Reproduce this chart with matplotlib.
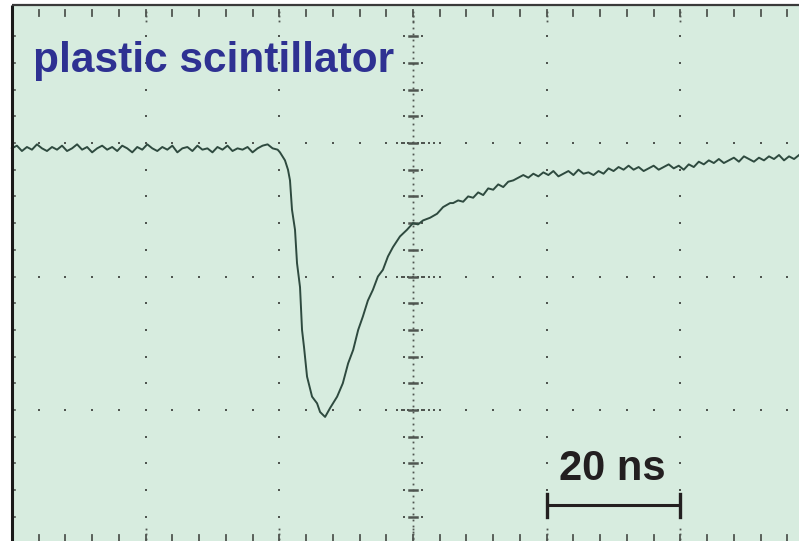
import numpy as np
import matplotlib.pyplot as plt
from matplotlib.patches import Rectangle

# scope trace: time in ns (20 ns / div), amplitude in divisions
base_t = [-60.0, -59.25, -58.5, -57.75, -57.0, -56.25, -55.5, -54.75, -54.0, -53.25,
          -52.5, -51.75, -51.0, -50.25, -49.5, -48.75, -48.0, -47.25, -46.5, -45.75,
          -45.0, -44.25, -43.5, -42.75, -42.0, -41.25, -40.5, -39.75, -39.0, -38.25,
          -37.5, -36.75, -36.0, -35.25, -34.5, -33.75, -33.0, -32.25, -31.5, -30.75,
          -30.0, -29.25, -28.5, -27.75, -27.0, -26.25, -25.5, -24.75, -24.0, -23.25,
          -22.5, -21.75, -21.0, -20.25]
base_v = [2.96, 2.98, 2.94, 2.97, 2.95, 2.99, 2.96, 2.94, 2.97, 2.95,
          2.98, 2.94, 2.96, 2.99, 2.95, 2.97, 2.93, 2.96, 2.98, 2.95,
          2.97, 2.94, 2.98, 2.96, 2.93, 2.97, 2.95, 2.99, 2.96, 2.94,
          2.97, 2.95, 2.98, 2.93, 2.96, 2.97, 2.94, 2.98, 2.95, 2.96,
          2.93, 2.97, 2.95, 2.98, 2.94, 2.96, 2.95, 2.97, 2.93, 2.96,
          2.98, 2.99, 2.96, 2.95]

pulse_t = [-19.9, -19.15, -18.7, -18.4, -18.1, -17.65, -17.35, -16.9, -16.6, -16.3,
           -15.85, -15.1, -14.35, -13.9, -13.15, -12.4, -11.35, -10.5, -9.7, -8.95,
           -8.2, -7.5, -6.75, -6.0, -5.25, -4.5, -3.75, -3.0, -1.95, -0.9,
           0.0, 0.75, 1.5, 2.55, 3.6, 4.5, 5.55]
pulse_v = [2.93, 2.87, 2.80, 2.72, 2.50, 2.35, 2.10, 1.92, 1.60, 1.47,
           1.25, 1.10, 1.05, 0.985, 0.948, 1.015, 1.10, 1.20, 1.35, 1.45,
           1.60, 1.70, 1.82, 1.90, 2.00, 2.05, 2.15, 2.22, 2.30, 2.35,
           2.40, 2.39, 2.42, 2.44, 2.47, 2.52, 2.55]

tail_t = [6.0, 6.75, 7.5, 8.25, 9.0, 9.75, 10.5, 11.25, 12.0, 12.75,
          13.5, 14.25, 15.0, 15.75, 16.5, 17.25, 18.0, 18.75, 19.5, 20.25,
          21.0, 21.75, 22.5, 23.25, 24.0, 24.75, 25.5, 26.25, 27.0, 27.75,
          28.5, 29.25, 30.0, 30.75, 31.5, 32.25, 33.0, 33.75, 34.5, 35.25,
          36.0, 36.75, 37.5, 38.25, 39.0, 39.75, 40.5, 41.25, 42.0, 42.75,
          43.5, 44.25, 45.0, 45.75, 46.5, 47.25, 48.0, 48.75, 49.5, 50.25,
          51.0, 51.75, 52.5, 53.25, 54.0, 54.75, 55.5, 56.25, 57.0, 57.75]
tail_v = [2.55, 2.57, 2.56, 2.60, 2.59, 2.63, 2.61, 2.66, 2.65, 2.69,
          2.67, 2.71, 2.72, 2.74, 2.76, 2.74, 2.77, 2.75, 2.78, 2.76,
          2.79, 2.75, 2.77, 2.79, 2.76, 2.80, 2.77, 2.78, 2.76, 2.79,
          2.77, 2.81, 2.79, 2.82, 2.80, 2.83, 2.80, 2.82, 2.79, 2.81,
          2.83, 2.80, 2.82, 2.84, 2.81, 2.83, 2.80, 2.84, 2.82, 2.86,
          2.84, 2.87, 2.85, 2.88, 2.85, 2.87, 2.89, 2.86, 2.90, 2.88,
          2.86, 2.89, 2.87, 2.90, 2.88, 2.91, 2.87, 2.90, 2.88, 2.91]

t = base_t + pulse_t + tail_t
v = base_v + pulse_v + tail_v

bg = '#d7ecdf'
dotc = '#4f5550'
top = 4.034

fig = plt.figure(figsize=(7.99, 5.41), dpi=100)
ax = fig.add_axes([0, 0, 1, 1])
ax.set_xlim(-413 / 133.7 * 20, 386 / 133.7 * 20)
ax.set_ylim(2.5 / 133.5, 543.5 / 133.5)
ax.axis('off')

ax.add_patch(Rectangle((-60, -0.2), 140, top + 0.2, facecolor=bg, edgecolor='none', zorder=0))

# graticule dots
ms = 1.7
for gx in [-40, -20, 20, 40]:
    yy = np.arange(0.2, 4.0, 0.2)
    ax.plot([gx] * len(yy), yy, 's', color=dotc, ms=ms, mew=0, zorder=1)
for gy in [1, 2, 3]:
    xx = np.arange(-56, 58, 4)
    ax.plot(xx, [gy] * len(xx), 's', color=dotc, ms=ms, mew=0, zorder=1)
    xx = np.arange(-2.4, 4.0, 0.8)
    ax.plot(xx, [gy] * len(xx), 's', color=dotc, ms=ms, mew=0, zorder=1)

# centre vertical axis with minor ticks
yy = np.arange(0.04, 4.0, 0.045)
ax.plot([0] * len(yy), yy, 's', color=dotc, ms=1.3, mew=0, zorder=1)
for my in np.arange(0.2, 4.0, 0.2):
    ax.plot([-0.6, 0.6], [my, my], '-', color=dotc, lw=1.8, zorder=1)
    ax.plot([-1.4, 1.4], [my, my], 's', color=dotc, ms=1.5, mew=0, zorder=1)

# ticks on top edge and along bottom centre line
for mx in np.arange(-56, 58, 4):
    ax.plot([mx, mx], [top - 0.04, top - 0.08], '-', color=dotc, lw=1.3, zorder=1)
    ax.plot([mx, mx], [0.0, 0.06], '-', color=dotc, lw=1.3, zorder=1)
for gx in [-40, -20, 0, 20, 40]:
    yy = np.arange(0.0, 0.14, 0.035)
    ax.plot([gx] * len(yy), yy, 's', color=dotc, ms=1.3, mew=0, zorder=1)
    yy = np.arange(top - 0.12, top - 0.02, 0.035)
    ax.plot([gx] * len(yy), yy, 's', color=dotc, ms=1.3, mew=0, zorder=1)

# ticks on left edge
for my in np.arange(0.2, 4.0, 0.2):
    ax.plot([-60, -59.6], [my, my], '-', color=dotc, lw=1.2, zorder=1)

# frame
ax.plot([-60, -60], [-0.2, top], '-', color='#1a1a1a', lw=2.2, zorder=3, solid_capstyle='butt')
ax.plot([-60, 80], [top, top], '-', color='#3a3a3a', lw=1.6, zorder=3, solid_capstyle='butt')

# trace
ax.plot(t, v, '-', color='#2e4a3f', lw=1.4, zorder=2)

ax.text(-56.85, 3.532, 'plastic scintillator', color='#2e3192', fontsize=30.5,
        fontweight='bold', family='Liberation Sans', va='baseline', ha='left', zorder=4)

# 20 ns scale bar
ax.plot([20, 40], [0.288, 0.288], '-', color='#231f20', lw=2.2, zorder=4, solid_capstyle='butt')
ax.plot([20, 20], [0.199, 0.371], '-', color='#231f20', lw=2.4, zorder=4)
ax.plot([40, 40], [0.199, 0.371], '-', color='#231f20', lw=2.4, zorder=4)
ax.text(29.85, 0.476, '20 ns', color='#231f20', fontsize=30, fontweight='bold',
        family='Liberation Sans', va='baseline', ha='center', zorder=4)

fig.savefig('out.png', dpi=100, facecolor='white')
